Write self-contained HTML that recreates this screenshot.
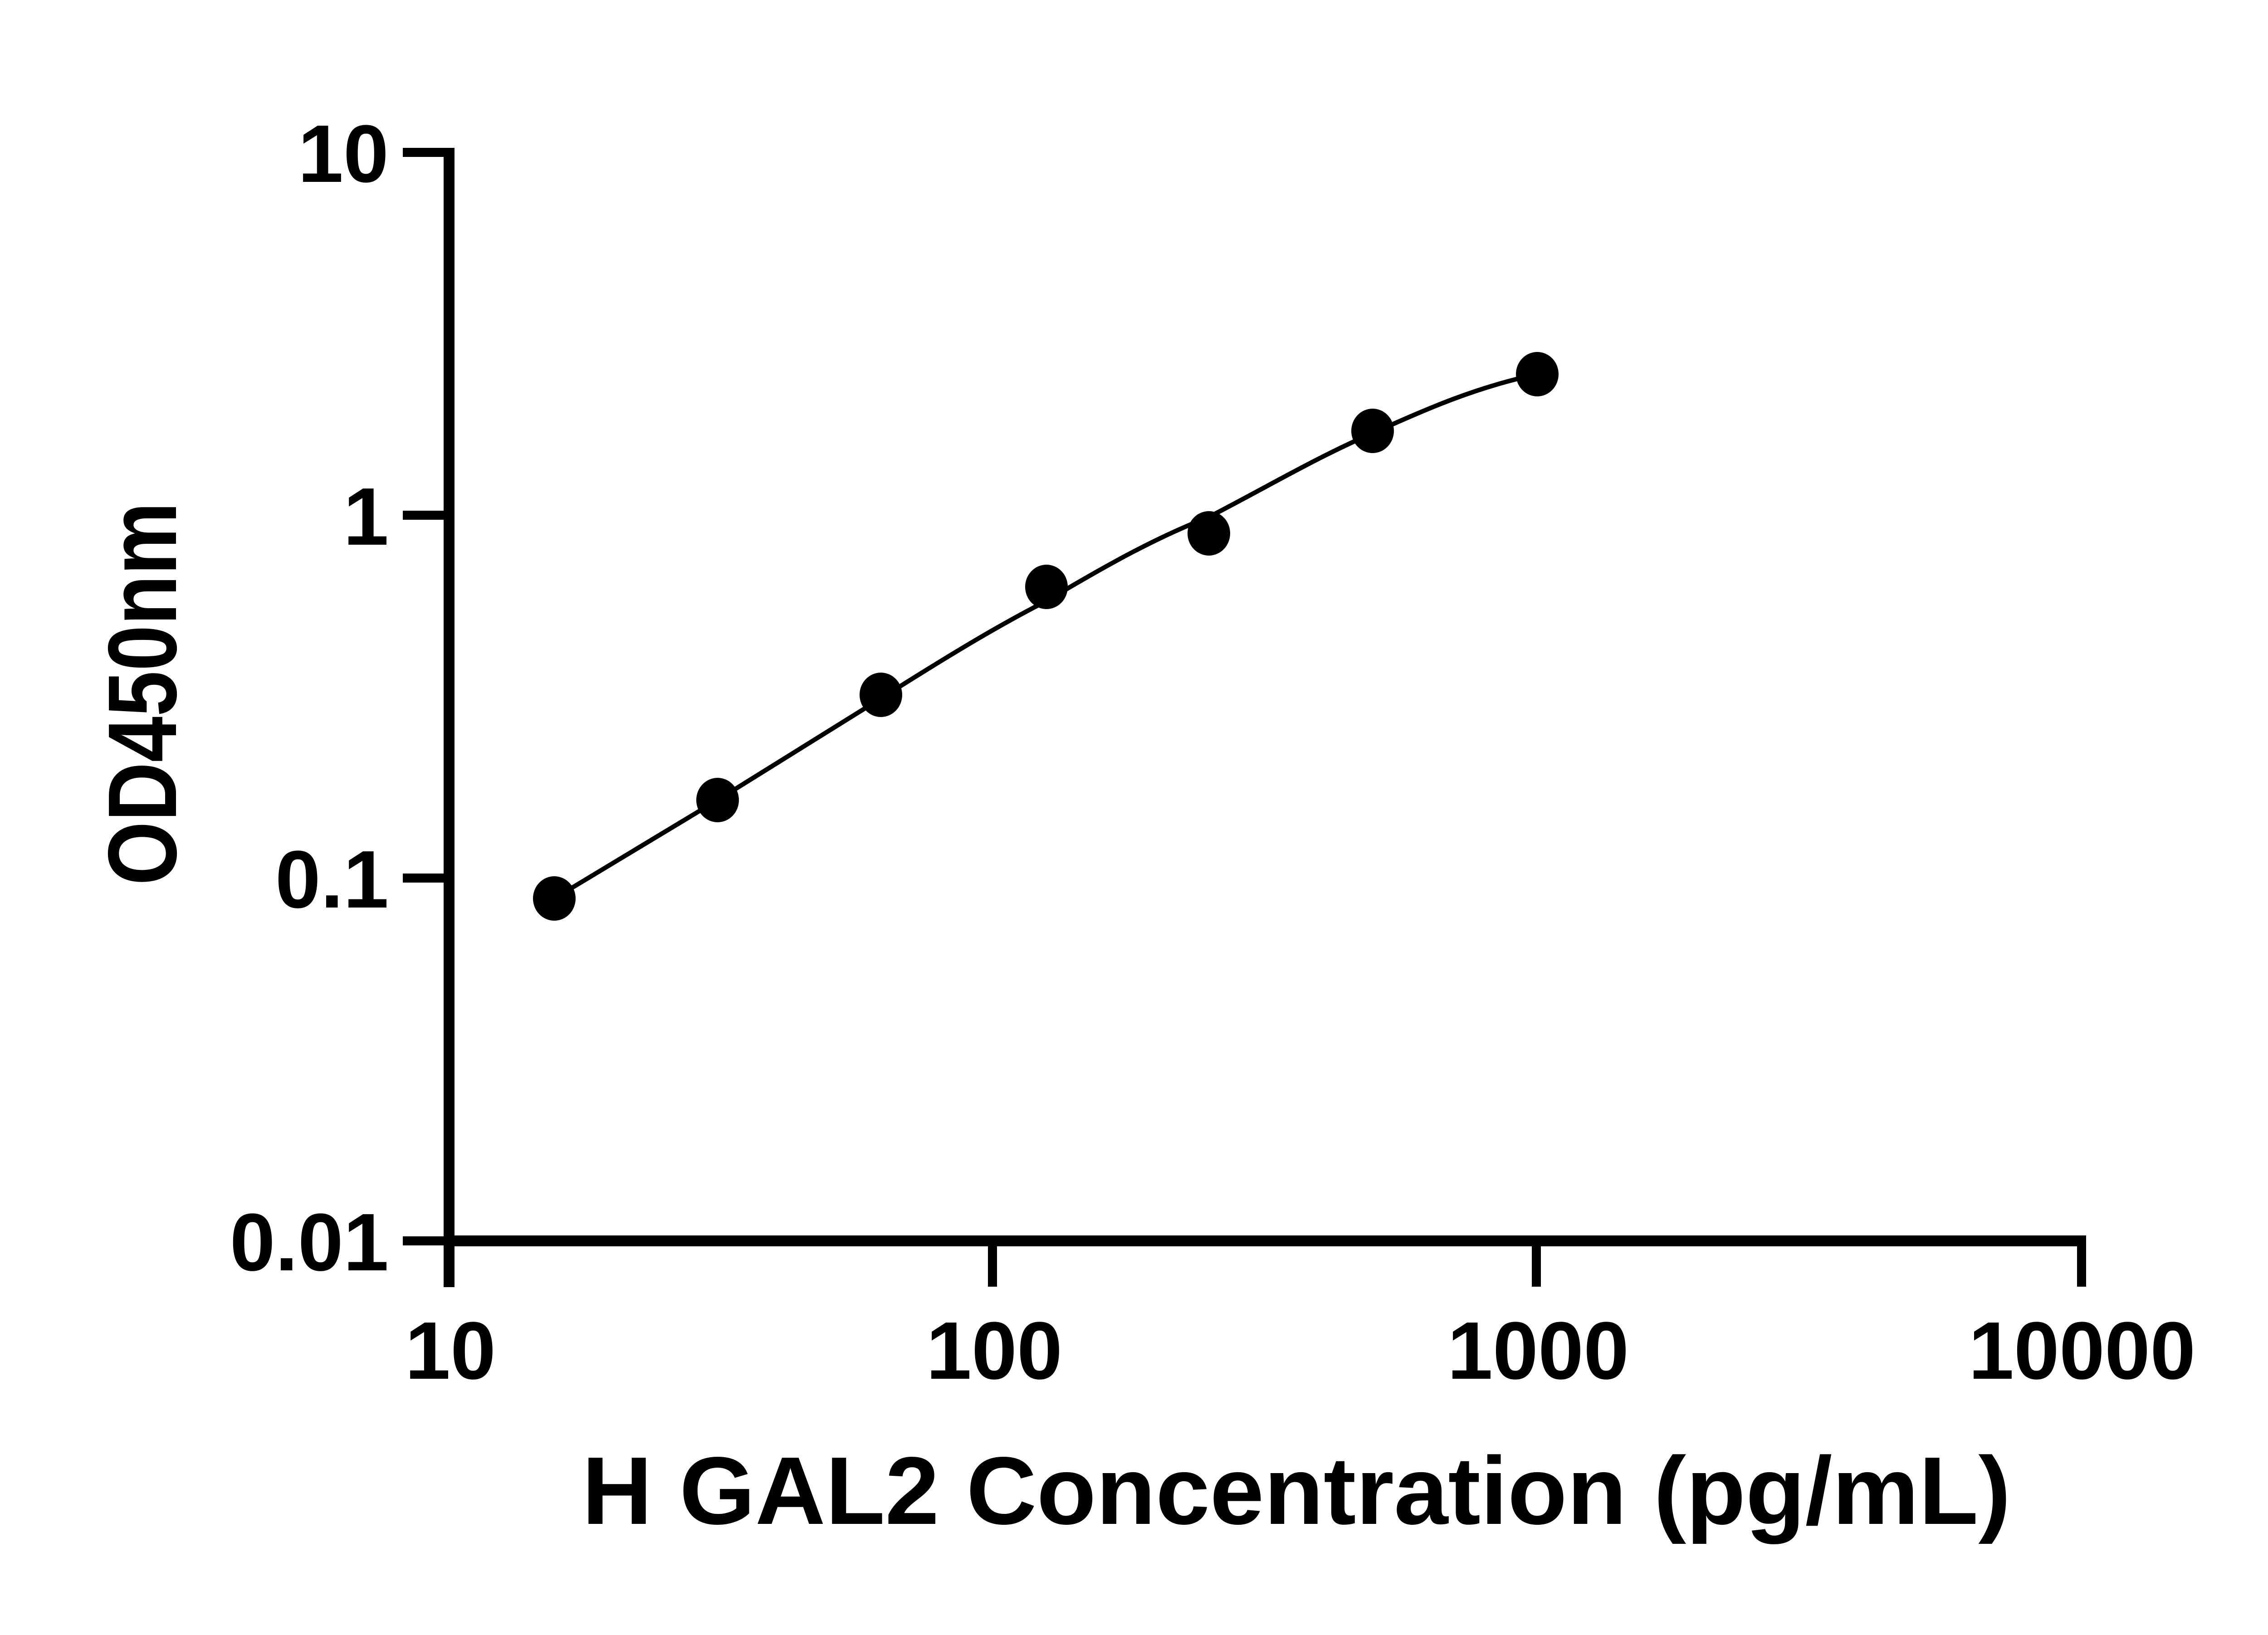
<!DOCTYPE html>
<html><head><meta charset="utf-8"><style>html,body{margin:0;padding:0;background:#fff}</style></head>
<body>
<svg width="5142" height="3600" viewBox="0 0 5142 3600" xmlns="http://www.w3.org/2000/svg">
<rect width="5142" height="3600" fill="#fff"/>
<g stroke="#000" fill="none">
<line x1="990" y1="326" x2="990" y2="2838" stroke-width="24"/>
<line x1="978" y1="2736" x2="4599" y2="2736" stroke-width="24"/>
<g stroke-width="20">
<line x1="888" y1="336" x2="990" y2="336"/>
<line x1="888" y1="1136" x2="990" y2="1136"/>
<line x1="888" y1="1936" x2="990" y2="1936"/>
<line x1="888" y1="2736" x2="990" y2="2736"/>
<line x1="2188" y1="2736" x2="2188" y2="2837"/>
<line x1="3387" y1="2736" x2="3387" y2="2837"/>
<line x1="4589" y1="2736" x2="4589" y2="2837"/>
</g>
<path d="M1222,1981 L1582,1764 L1942,1540 C2100,1440 2200,1380 2307,1325 C2450,1240 2550,1185 2665,1140 C2800,1070 2900,1010 3026,955 C3150,900 3250,855 3389,825" stroke-width="10"/>
</g>
<g fill="#000">
<ellipse cx="1222" cy="1981" rx="47" ry="49"/>
<ellipse cx="1582" cy="1764" rx="47" ry="49"/>
<ellipse cx="1942" cy="1532" rx="47" ry="49"/>
<ellipse cx="2307" cy="1294" rx="47" ry="49"/>
<ellipse cx="2665" cy="1176" rx="47" ry="49"/>
<ellipse cx="3026" cy="950" rx="47" ry="49"/>
<ellipse cx="3389" cy="825" rx="47" ry="49"/>
</g>
<g font-family="Liberation Sans, sans-serif" font-weight="bold" fill="#000">
<g font-size="180" text-anchor="end">
<text x="857" y="401">10</text>
<text x="857" y="1201">1</text>
<text x="857" y="2001">0.1</text>
<text x="857" y="2801">0.01</text>
</g>
<g font-size="180" text-anchor="middle">
<text x="993" y="3040">10</text>
<text x="2192" y="3040">100</text>
<text x="3391" y="3040">1000</text>
<text x="4590" y="3040">10000</text>
</g>
<text x="1283" y="3360" font-size="212" textLength="3150" lengthAdjust="spacingAndGlyphs">H GAL2 Concentration (pg/mL)</text>
<text transform="translate(388,1952) rotate(-90)" font-size="215" textLength="845" lengthAdjust="spacingAndGlyphs">OD450nm</text>
</g>
</svg>
</body></html>
